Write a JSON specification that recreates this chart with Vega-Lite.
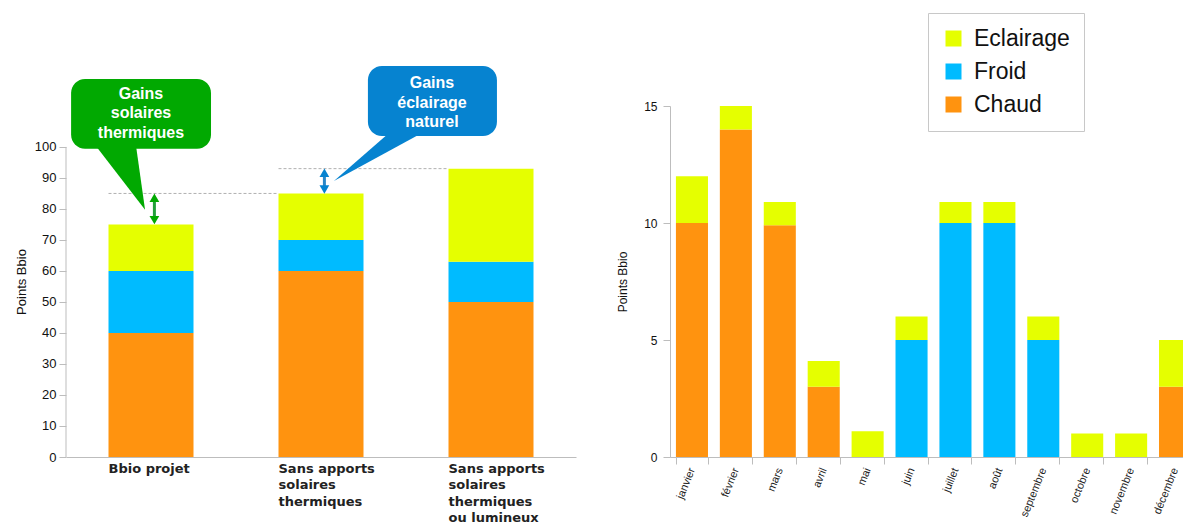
{
  "$schema": "https://vega.github.io/schema/vega-lite/v6.json",
  "background": "white",
  "padding": {"left": 15, "top": 12, "right": 0, "bottom": 0},
  "spacing": 94,
  "bounds": "flush",
  "config": {
    "view": {"stroke": null},
    "font": "Liberation Sans",
    "axis": {"domainColor": "#bdbdbd", "tickColor": "#bdbdbd", "labelColor": "#111111", "titleColor": "#111111", "grid": false, "titleFontWeight": "normal"}
  },
  "datasets": {
    "gauche": [
      {"scenario": "Bbio projet", "poste": "Chaud", "valeur": 40},
      {"scenario": "Bbio projet", "poste": "Froid", "valeur": 20},
      {"scenario": "Bbio projet", "poste": "Eclairage", "valeur": 15},
      {"scenario": "Sans apports solaires thermiques", "poste": "Chaud", "valeur": 60},
      {"scenario": "Sans apports solaires thermiques", "poste": "Froid", "valeur": 10},
      {"scenario": "Sans apports solaires thermiques", "poste": "Eclairage", "valeur": 15},
      {"scenario": "Sans apports solaires thermiques ou lumineux", "poste": "Chaud", "valeur": 50},
      {"scenario": "Sans apports solaires thermiques ou lumineux", "poste": "Froid", "valeur": 13},
      {"scenario": "Sans apports solaires thermiques ou lumineux", "poste": "Eclairage", "valeur": 30}
    ],
    "traits": [
      {"x": 0.25, "x2": 1.25, "y": 85},
      {"x": 1.25, "x2": 2.25, "y": 93}
    ],
    "bulles": [
      {"bulle": "thermique", "texte": "Gains\nsolaires\nthermiques", "bx": 0.03, "bx2": 0.853, "by": 99.4, "by2": 121.9, "tx": 0.441, "ty": 117.1, "fx": 0.52, "fbas": 76.4, "fhaut": 83.6},
      {"bulle": "eclairage", "texte": "Gains\néclairage\nnaturel", "bx": 1.776, "bx2": 2.535, "by": 103.5, "by2": 126.1, "tx": 2.153, "ty": 120.6, "fx": 1.52, "fbas": 86.3, "fhaut": 91.7}
    ],
    "pointes": [
      {"bulle": "thermique", "y": 100.3, "x": 0.176, "x2": 0.412},
      {"bulle": "thermique", "y": 79.7, "x": 0.465, "x2": 0.465},
      {"bulle": "eclairage", "y": 104.5, "x": 1.9, "x2": 2.094},
      {"bulle": "eclairage", "y": 89.0, "x": 1.576, "x2": 1.576}
    ],
    "mois": [
      {"mois": "janvier", "poste": "Chaud", "valeur": 10},
      {"mois": "janvier", "poste": "Eclairage", "valeur": 2},
      {"mois": "février", "poste": "Chaud", "valeur": 14},
      {"mois": "février", "poste": "Eclairage", "valeur": 1},
      {"mois": "mars", "poste": "Chaud", "valeur": 9.9},
      {"mois": "mars", "poste": "Eclairage", "valeur": 1},
      {"mois": "avril", "poste": "Chaud", "valeur": 3},
      {"mois": "avril", "poste": "Eclairage", "valeur": 1.1},
      {"mois": "mai", "poste": "Eclairage", "valeur": 1.1},
      {"mois": "juin", "poste": "Froid", "valeur": 5},
      {"mois": "juin", "poste": "Eclairage", "valeur": 1},
      {"mois": "juillet", "poste": "Froid", "valeur": 10},
      {"mois": "juillet", "poste": "Eclairage", "valeur": 0.9},
      {"mois": "août", "poste": "Froid", "valeur": 10},
      {"mois": "août", "poste": "Eclairage", "valeur": 0.9},
      {"mois": "septembre", "poste": "Froid", "valeur": 5},
      {"mois": "septembre", "poste": "Eclairage", "valeur": 1},
      {"mois": "octobre", "poste": "Eclairage", "valeur": 1},
      {"mois": "novembre", "poste": "Eclairage", "valeur": 1},
      {"mois": "décembre", "poste": "Chaud", "valeur": 3},
      {"mois": "décembre", "poste": "Eclairage", "valeur": 2}
    ]
  },
  "resolve": {"scale": {"color": "independent"}, "legend": {"color": "independent"}},
  "hconcat": [
    {
      "width": 510,
      "height": 351,
      "resolve": {"scale": {"x": "independent"}, "axis": {"x": "independent"}},
      "layer": [
        {
          "data": {"name": "gauche"},
          "transform": [{"calculate": "indexof(['Chaud','Froid','Eclairage'], datum.poste)", "as": "rang"}],
          "mark": {"type": "bar"},
          "encoding": {
            "x": {
              "field": "scenario", "type": "nominal", "sort": null,
              "scale": {"paddingInner": 0.5, "paddingOuter": 0.25},
              "axis": {
                "title": null, "ticks": false, "labelAngle": 0, "labelAlign": "left", "labelOffset": -42.5,
                "labelBaseline": "top", "labelPadding": 5, "labelFontSize": 13, "labelFont": "DejaVu Sans",
                "labelFontWeight": "bold", "labelLineHeight": 16.5, "labelColor": "#222222",
                "labelExpr": "datum.label == 'Bbio projet' ? 'Bbio projet' : (datum.label == 'Sans apports solaires thermiques' ? ['Sans apports', 'solaires', 'thermiques'] : ['Sans apports', 'solaires', 'thermiques', 'ou lumineux'])"
              }
            },
            "y": {
              "field": "valeur", "type": "quantitative", "stack": "zero",
              "scale": {"domain": [0, 113.2], "nice": false},
              "axis": {"values": [0, 10, 20, 30, 40, 50, 60, 70, 80, 90, 100], "labelOverlap": false, "domain": false, "tickSize": 7, "labelFontSize": 13, "labelPadding": 3, "title": "Points Bbio", "titleFontSize": 13, "titlePadding": 6}
            },
            "color": {
              "field": "poste", "type": "nominal",
              "scale": {"domain": ["Eclairage", "Froid", "Chaud"], "range": ["#e5ff00", "#00bbff", "#ff930f"]},
              "legend": null
            },
            "order": {"field": "rang", "type": "quantitative"}
          }
        },
        {
          "data": {"values": [{}]},
          "mark": {"type": "rule", "color": "#bdbdbd"},
          "encoding": {
            "x": {"datum": 0, "type": "quantitative", "scale": {"domain": [0, 3], "nice": false, "zero": false}, "axis": null},
            "y": {"datum": 0, "type": "quantitative", "scale": {"domain": [0, 113.2], "nice": false},
              "axis": {"values": [0, 10, 20, 30, 40, 50, 60, 70, 80, 90, 100], "labelOverlap": false, "domain": false, "tickSize": 7, "labelFontSize": 13, "labelPadding": 3, "title": "Points Bbio", "titleFontSize": 13, "titlePadding": 6}},
            "y2": {"datum": 100}
          }
        },
        {
          "data": {"name": "traits"},
          "mark": {"type": "rule", "color": "#b0b0b0", "strokeDash": [3, 2], "strokeWidth": 1},
          "encoding": {
            "x": {"field": "x", "type": "quantitative", "scale": {"domain": [0, 3], "nice": false, "zero": false}, "axis": null},
            "x2": {"field": "x2"},
            "y": {"field": "y", "type": "quantitative", "scale": {"domain": [0, 113.2], "nice": false},
              "axis": {"values": [0, 10, 20, 30, 40, 50, 60, 70, 80, 90, 100], "labelOverlap": false, "domain": false, "tickSize": 7, "labelFontSize": 13, "labelPadding": 3, "title": "Points Bbio", "titleFontSize": 13, "titlePadding": 6}}
          }
        },
        {
          "data": {"name": "bulles"},
          "mark": {"type": "rect", "cornerRadius": 14},
          "encoding": {
            "x": {"field": "bx", "type": "quantitative", "scale": {"domain": [0, 3], "nice": false, "zero": false}, "axis": null},
            "x2": {"field": "bx2"},
            "y": {"field": "by", "type": "quantitative", "scale": {"domain": [0, 113.2], "nice": false},
              "axis": {"values": [0, 10, 20, 30, 40, 50, 60, 70, 80, 90, 100], "labelOverlap": false, "domain": false, "tickSize": 7, "labelFontSize": 13, "labelPadding": 3, "title": "Points Bbio", "titleFontSize": 13, "titlePadding": 6}},
            "y2": {"field": "by2"},
            "fill": {"field": "bulle", "type": "nominal", "scale": {"domain": ["thermique", "eclairage"], "range": ["#01a901", "#0683d0"]}, "legend": null}
          }
        },
        {
          "data": {"name": "pointes"},
          "mark": {"type": "area", "orient": "horizontal"},
          "encoding": {
            "y": {"field": "y", "type": "quantitative", "scale": {"domain": [0, 113.2], "nice": false},
              "axis": {"values": [0, 10, 20, 30, 40, 50, 60, 70, 80, 90, 100], "labelOverlap": false, "domain": false, "tickSize": 7, "labelFontSize": 13, "labelPadding": 3, "title": "Points Bbio", "titleFontSize": 13, "titlePadding": 6}},
            "x": {"field": "x", "type": "quantitative", "stack": null, "scale": {"domain": [0, 3], "nice": false, "zero": false}, "axis": null},
            "x2": {"field": "x2"},
            "fill": {"field": "bulle", "type": "nominal", "scale": {"domain": ["thermique", "eclairage"], "range": ["#01a901", "#0683d0"]}, "legend": null}
          }
        },
        {
          "data": {"name": "bulles"},
          "mark": {"type": "text", "lineBreak": "\n", "lineHeight": 19.5, "fontSize": 16, "fontWeight": "bold", "color": "white", "align": "center", "baseline": "middle"},
          "encoding": {
            "x": {"field": "tx", "type": "quantitative", "scale": {"domain": [0, 3], "nice": false, "zero": false}, "axis": null},
            "y": {"field": "ty", "type": "quantitative", "scale": {"domain": [0, 113.2], "nice": false},
              "axis": {"values": [0, 10, 20, 30, 40, 50, 60, 70, 80, 90, 100], "labelOverlap": false, "domain": false, "tickSize": 7, "labelFontSize": 13, "labelPadding": 3, "title": "Points Bbio", "titleFontSize": 13, "titlePadding": 6}},
            "text": {"field": "texte"}
          }
        },
        {
          "data": {"name": "bulles"},
          "mark": {"type": "rule", "strokeWidth": 3},
          "encoding": {
            "x": {"field": "fx", "type": "quantitative", "scale": {"domain": [0, 3], "nice": false, "zero": false}, "axis": null},
            "y": {"field": "fbas", "type": "quantitative", "scale": {"domain": [0, 113.2], "nice": false},
              "axis": {"values": [0, 10, 20, 30, 40, 50, 60, 70, 80, 90, 100], "labelOverlap": false, "domain": false, "tickSize": 7, "labelFontSize": 13, "labelPadding": 3, "title": "Points Bbio", "titleFontSize": 13, "titlePadding": 6}},
            "y2": {"field": "fhaut"},
            "stroke": {"field": "bulle", "type": "nominal", "scale": {"domain": ["thermique", "eclairage"], "range": ["#22a03a", "#2a87c8"]}, "legend": null}
          }
        },
        {
          "data": {"name": "bulles"},
          "mark": {"type": "point", "shape": "triangle-up", "filled": true, "size": 95, "opacity": 1},
          "encoding": {
            "x": {"field": "fx", "type": "quantitative", "scale": {"domain": [0, 3], "nice": false, "zero": false}, "axis": null},
            "y": {"field": "fhaut", "type": "quantitative", "scale": {"domain": [0, 113.2], "nice": false},
              "axis": {"values": [0, 10, 20, 30, 40, 50, 60, 70, 80, 90, 100], "labelOverlap": false, "domain": false, "tickSize": 7, "labelFontSize": 13, "labelPadding": 3, "title": "Points Bbio", "titleFontSize": 13, "titlePadding": 6}},
            "fill": {"field": "bulle", "type": "nominal", "scale": {"domain": ["thermique", "eclairage"], "range": ["#22a03a", "#2a87c8"]}, "legend": null}
          }
        },
        {
          "data": {"name": "bulles"},
          "mark": {"type": "point", "shape": "triangle-down", "filled": true, "size": 95, "opacity": 1},
          "encoding": {
            "x": {"field": "fx", "type": "quantitative", "scale": {"domain": [0, 3], "nice": false, "zero": false}, "axis": null},
            "y": {"field": "fbas", "type": "quantitative", "scale": {"domain": [0, 113.2], "nice": false},
              "axis": {"values": [0, 10, 20, 30, 40, 50, 60, 70, 80, 90, 100], "labelOverlap": false, "domain": false, "tickSize": 7, "labelFontSize": 13, "labelPadding": 3, "title": "Points Bbio", "titleFontSize": 13, "titlePadding": 6}},
            "fill": {"field": "bulle", "type": "nominal", "scale": {"domain": ["thermique", "eclairage"], "range": ["#22a03a", "#2a87c8"]}, "legend": null}
          }
        }
      ]
    },
    {
      "width": 527,
      "height": 351,
      "data": {"name": "mois"},
      "transform": [{"calculate": "indexof(['Chaud','Froid','Eclairage'], datum.poste)", "as": "rang"}],
      "mark": {"type": "bar"},
      "encoding": {
        "x": {
          "field": "mois", "type": "nominal", "sort": null,
          "scale": {"paddingInner": 0.27, "paddingOuter": 0.135},
          "axis": {"title": null, "labelAngle": -68, "labelAlign": "right", "labelBaseline": "middle", "labelFontSize": 11, "labelPadding": 4, "tickBand": "extent", "tickSize": 7, "labelColor": "#222222"}
        },
        "y": {
          "field": "valeur", "type": "quantitative", "stack": "zero",
          "scale": {"domain": [0, 15], "nice": false},
          "axis": {"values": [0, 5, 10, 15], "tickSize": 7, "labelFontSize": 12, "labelPadding": 6, "title": "Points Bbio", "titleFontSize": 12, "titlePadding": 14}
        },
        "color": {
          "field": "poste", "type": "nominal",
          "scale": {"domain": ["Eclairage", "Froid", "Chaud"], "range": ["#e5ff00", "#00bbff", "#ff930f"]},
          "legend": {
            "title": null, "orient": "none", "legendX": 258, "legendY": -93,
            "strokeColor": "#c8c8c8", "padding": 14, "fillColor": "white",
            "symbolType": "square", "symbolSize": 256, "symbolStrokeWidth": 0, "symbolOpacity": 1,
            "labelFontSize": 23, "labelColor": "#111111", "labelOffset": 9, "rowPadding": 9
          }
        },
        "order": {"field": "rang", "type": "quantitative"}
      }
    }
  ]
}
